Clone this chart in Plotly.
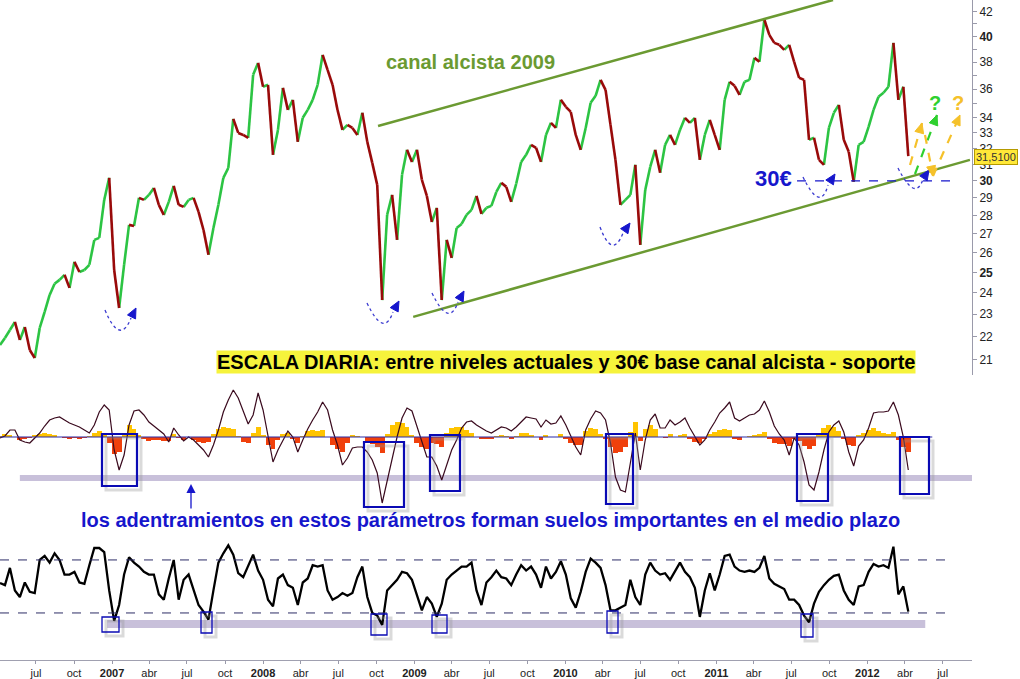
import math
import pandas as pd
import plotly.graph_objects as go

# ---------------- DATA ----------------
inicio = "2006-04-05"
n_periodos = 184
fechas = pd.date_range(inicio, periods=n_periodos, freq="12D").strftime("%Y-%m-%d").tolist()

precio = [
    21.63, 21.94, 22.29, 22.65, 21.85, 22.42, 21.42, 21.08, 22.38, 23.11,
    23.90, 24.44, 24.63, 24.88, 24.24, 25.53, 25.02, 25.12, 25.38, 26.67,
    26.78, 28.88, 30.18, 25.12, 23.29, 25.38, 27.48, 27.42, 29.00, 28.88,
    29.17, 29.58, 28.60, 28.03, 28.77, 29.70, 28.60, 28.48, 28.88, 29.00,
    28.20, 27.20, 25.89, 27.31, 28.60, 30.18, 30.78, 33.94, 33.00, 32.87,
    32.68, 37.05, 37.94, 36.18, 36.32, 31.59, 33.20, 36.10, 34.55, 35.25,
    32.42, 34.01, 34.55, 35.25, 36.32, 38.55, 37.42, 36.32, 34.55, 33.20,
    33.53, 33.33, 32.87, 34.35, 32.42, 31.09, 29.76, 23.66, 28.03, 29.17,
    26.67, 30.36, 31.91, 31.15, 31.91, 30.06, 29.11, 27.64, 28.43, 23.66,
    26.67, 25.73, 27.31, 27.53, 28.03, 28.31, 29.11, 28.09, 28.43, 28.54,
    29.34, 29.88, 29.64, 28.77, 29.82, 31.15, 31.59, 32.23, 32.04, 31.15,
    32.87, 33.67, 33.33, 35.25, 34.76, 34.41, 32.87, 31.91, 33.33, 35.04,
    35.53, 36.68, 35.96, 33.53, 31.28, 28.60, 28.88, 29.17, 30.97, 26.41,
    29.46, 30.84, 31.91, 30.48, 32.23, 32.87, 32.23, 33.20, 34.01, 33.67,
    34.01, 31.28, 32.87, 33.87, 32.87, 31.91, 35.25, 36.54, 36.25, 35.60,
    36.54, 36.68, 38.32, 38.02, 41.34, 40.12, 39.48, 39.33, 38.94, 39.33,
    38.02, 36.83, 36.68, 32.55, 32.68, 31.28, 30.97, 33.33, 34.35, 34.90,
    32.55, 31.78, 29.94, 32.23, 32.42, 33.40, 34.55, 35.46, 35.75, 36.18,
    39.48, 35.25, 36.18, 31.51,
]

osc_linea = [
    -0.1, 0.1, 0.7, 0.7, -0.3, -0.5, -0.6, -0.1, 0.4, 1.1,
    1.7, 1.9, 2.0, 1.7, 1.4, 1.2, 1.0, 0.7, 0.4, 1.2,
    2.5, 3.2, 2.7, -1.3, -3.3, -1.8, 1.2, 2.6, 2.7, 2.2,
    1.5, 1.1, 0.7, 0.3, -0.5, 0.9, 0.2, -0.4, 0.0, -0.3,
    -0.8, -1.3, -2.0, -0.8, 0.7, 2.5, 3.7, 4.7, 3.9, 2.5,
    1.3, 2.2, 4.4, 2.7, 0.0, -2.5, -1.3, -0.3, 0.6, 0.0,
    -1.5, -0.3, 0.8, 1.7, 2.5, 3.5, 2.7, 0.7, -0.8, -2.8,
    -2.1, -1.1, -1.0, -1.0, -1.5, -2.3, -3.6, -6.6, -4.3, -2.1,
    0.0, 1.9, 2.9, 2.6, 1.1, -0.6, -2.0, -2.0, -2.9, -4.3,
    -2.9, -1.3, -0.3, 0.9, 1.5, 1.6, 1.2, 0.9, 0.6, 0.4,
    0.7, 1.0, 0.9, 0.6, 1.0, 1.5, 2.0, 1.9, 1.8, 1.0,
    1.7, 1.3, 1.4, 2.1, 1.2, 0.1, -1.0, -1.8, 0.7, 1.8,
    2.6, 2.4, 1.7, -0.6, -4.0, -5.3, -5.5, -2.6, 0.4, -3.3,
    -0.3, 1.7, 2.3, 0.9, 0.9, 1.7, 1.2, 1.5, 1.9, 0.9,
    0.0, -0.8, -0.3, 0.7, 1.5, 2.4, 2.9, 3.5, 1.9, 1.6,
    1.9, 2.2, 2.3, 2.7, 3.6, 2.5, 1.1, 0.3, -0.3, -1.8,
    -0.1, -0.8, -2.5, -4.8, -5.3, -3.5, -1.3, 0.5, 1.2, 1.6,
    0.5, -1.5, -2.9, -0.9, -0.3, 0.9, 2.4, 2.5, 2.5, 2.6,
    3.5, 2.2, 0.0, -3.3,
]

osc_histograma = [
    0.1, 0.3, 0.2, 0.0, -0.3, -0.2, -0.1, 0.2, 0.3, 0.4,
    0.3, 0.2, 0.0, -0.1, -0.2, -0.1, -0.2, -0.1, 0.1, 0.4,
    0.6, 0.2, -0.6, -1.7, -1.5, 0.2, 1.2, 0.8, 0.2, -0.2,
    -0.4, -0.3, -0.3, -0.4, -0.4, 0.3, -0.1, -0.3, 0.0, -0.3,
    -0.5, -0.6, -0.5, 0.3, 0.8, 1.0, 0.9, 0.8, 0.1, -0.5,
    -0.6, 0.4, 1.0, 0.2, -0.8, -1.2, -0.3, 0.3, 0.4, -0.2,
    -0.6, 0.1, 0.6, 0.7, 0.6, 0.7, 0.0, -0.8, -1.2, -1.5,
    -0.6, 0.2, 0.1, 0.0, -0.4, -0.7, -1.0, -1.6, 0.3, 1.2,
    1.5, 1.4, 1.0, 0.2, -0.6, -1.0, -1.2, -0.6, -0.7, -1.0,
    0.4, 0.9, 1.0, 1.0, 0.7, 0.4, 0.0, -0.2, -0.2, -0.2,
    0.1, 0.2, 0.1, -0.2, 0.1, 0.4, 0.4, 0.2, 0.0, -0.3,
    0.2, 0.0, 0.0, 0.3, -0.2, -0.6, -0.8, -0.8, 0.6, 0.9,
    0.8, 0.3, -0.2, -1.0, -1.6, -1.5, -1.0, 0.5, 1.5, -0.4,
    0.8, 1.2, 0.8, 0.0, -0.1, 0.3, 0.0, 0.2, 0.3, -0.2,
    -0.5, -0.6, -0.2, 0.3, 0.5, 0.7, 0.8, 0.7, -0.2, -0.3,
    0.0, 0.1, 0.2, 0.3, 0.5, -0.2, -0.6, -0.7, -0.7, -0.9,
    -0.2, -0.4, -0.9, -1.2, -0.9, 0.2, 0.9, 1.2, 1.0, 0.6,
    -0.2, -0.8, -0.9, 0.2, 0.4, 0.7, 0.9, 0.6, 0.4, 0.3,
    0.5, -0.3, -1.0, -1.5,
]

osc_rsi = [
    52.6, 51, 64, 47, 42, 53, 46, 45, 70, 73,
    68, 75, 70, 59, 59, 61, 53, 52, 66, 79,
    79, 76, 47, 24, 36, 59, 72, 68, 65, 61,
    59, 59, 44, 40, 56, 70, 40, 55, 59, 47,
    36, 31, 25, 47, 68, 75, 81, 74, 60, 57,
    65, 74, 62, 55, 40, 35, 56, 59, 51, 49,
    36, 53, 56, 66, 65, 66, 47, 40, 42, 45,
    43, 45, 57, 65, 42, 30, 28, 21, 47, 51,
    55, 61, 60, 55, 44, 32, 42, 37, 27, 37,
    55, 59, 62, 65, 65, 68, 47, 36, 53, 57,
    62, 57, 56, 51, 59, 66, 62, 65, 59, 49,
    65, 56, 61, 69, 59, 41, 34, 46, 61, 71,
    68, 64, 51, 32, 32, 34, 36, 55, 42, 36,
    59, 68, 62, 59, 60, 55, 62, 68, 61, 57,
    49, 27, 47, 60, 47, 59, 73, 74, 65, 62,
    61, 62, 61, 64, 73, 56, 52, 50, 48, 40,
    40, 36, 28, 23, 37, 46, 51, 55, 58, 59,
    47, 40, 36, 50, 51, 61, 67, 65, 66, 64,
    80, 44, 50, 31,
]

canal_sup_fechas = ["2008-10-05", "2011-10-10"]
canal_sup_valores = [33.46, 43.0]
canal_inf_fechas = ["2008-12-29", "2012-09-05"]
canal_inf_valores = [22.88, 31.28]
soporte_fechas = ["2011-07-15", "2012-07-24"]
soporte_valores = [30, 30]

precio_ticks = [21, 22, 23, 24, 25, 26, 27, 28, 29, 30, 31, 32, 33, 34, 35, 36, 37, 38, 39, 40, 41, 42]
precio_textos = ["21", "22", "23", "24", "<b>25</b>", "26", "27", "28", "29", "<b>30</b>", "31", "32",
                 "33", "34", "", "36", "", "38", "", "<b>40</b>", "", "42"]

mes_ticks = ["2006-07-01", "2006-10-01", "2007-01-01", "2007-04-01", "2007-07-01", "2007-10-01",
             "2008-01-01", "2008-04-01", "2008-07-01", "2008-10-01", "2009-01-01", "2009-04-01",
             "2009-07-01", "2009-10-01", "2010-01-01", "2010-04-01", "2010-07-01", "2010-10-01",
             "2011-01-01", "2011-04-01", "2011-07-01", "2011-10-01", "2012-01-01", "2012-04-01",
             "2012-07-01"]
mes_textos = ["jul", "oct", "<b>2007</b>", "abr", "jul", "oct", "<b>2008</b>", "abr", "jul", "oct",
              "<b>2009</b>", "abr", "jul", "oct", "<b>2010</b>", "abr", "jul", "oct", "<b>2011</b>",
              "abr", "jul", "oct", "<b>2012</b>", "abr", "jul"]

# ---------------- STYLE / GEOMETRY ----------------
VERDE_SUBE = "#2cc443"
ROJO_BAJA = "#990a0a"
VERDE_CANAL = "#6b9a32"
AZUL = "#1616cc"
FONT = "Liberation Sans, Arial, sans-serif"

W_PX, H_PX = 972.0, 660.0


def px(x):
    return x / W_PX


def py(y):
    return 1 - y / H_PX


fig = go.Figure()

xu, yu, xd, yd = [], [], [], []
for i in range(1, n_periodos):
    sx = [fechas[i - 1], fechas[i], None]
    sy = [precio[i - 1], precio[i], None]
    if precio[i] >= precio[i - 1]:
        xu += sx
        yu += sy
    else:
        xd += sx
        yd += sy
fig.add_trace(go.Scatter(x=xu, y=yu, mode="lines", line=dict(color=VERDE_SUBE, width=2.6),
                         yaxis="y", hoverinfo="skip"))
fig.add_trace(go.Scatter(x=xd, y=yd, mode="lines", line=dict(color=ROJO_BAJA, width=2.6),
                         yaxis="y", hoverinfo="skip"))

for fx, fy in [(canal_sup_fechas, canal_sup_valores), (canal_inf_fechas, canal_inf_valores)]:
    fig.add_trace(go.Scatter(x=fx, y=fy, mode="lines", line=dict(color=VERDE_CANAL, width=2.5),
                             yaxis="y", hoverinfo="skip"))
fig.add_trace(go.Scatter(x=soporte_fechas, y=soporte_valores, mode="lines",
                         line=dict(color=AZUL, width=1.2, dash="dash"), yaxis="y", hoverinfo="skip"))

fig.add_trace(go.Bar(x=fechas, y=osc_histograma, yaxis="y2",
                     marker=dict(color=["#ffc400" if h >= 0 else "#f0400c" for h in osc_histograma],
                                 line=dict(width=0)),
                     width=12 * 86400000, hoverinfo="skip"))
fig.add_trace(go.Scatter(x=fechas, y=osc_linea, mode="lines", yaxis="y2",
                         line=dict(color="#3a0a1e", width=1.2), hoverinfo="skip"))

fig.add_trace(go.Scatter(x=fechas, y=osc_rsi, mode="lines", yaxis="y3",
                         line=dict(color="#000000", width=2.3), hoverinfo="skip"))

shapes = []
shapes.append(dict(type="line", xref="x", yref="y2", x0=inicio, x1="2012-06-06", y0=0, y1=0,
                   line=dict(color="#2a2aa8", width=1.2)))
shapes.append(dict(type="rect", xref="x", yref="y2", x0="2006-05-23", x1="2012-09-10", y0=-3.8, y1=-4.4,
                   fillcolor="#c8c0da", line=dict(width=0), layer="below"))
shapes.append(dict(type="rect", xref="x", yref="y3", x0="2006-12-20", x1="2012-05-20", y0=18.7, y1=24.7,
                   fillcolor="#c8c0da", line=dict(width=0), layer="below"))
for lvl in (70, 30):
    shapes.append(dict(type="line", xref="x", yref="y3", x0=inicio, x1="2012-07-19", y0=lvl, y1=lvl,
                       line=dict(color="#2c2c66", width=1, dash="dash")))

cajas_1 = [(102, 434, 137, 486), (364, 442, 404, 507), (430, 435, 460, 491),
           (606, 434, 633, 504), (797, 434, 828, 501), (900, 437, 929, 494)]
cajas_2 = [(102, 617, 119, 632), (201, 612, 212, 633), (371, 614, 387, 635),
           (432, 615, 447, 633), (607, 611, 618, 633), (801, 614, 813, 637)]
for (x0, y0, x1, y1), wdt in [(c, 2.2) for c in cajas_1] + [(c, 1.3) for c in cajas_2]:
    shapes.append(dict(type="rect", xref="paper", yref="paper", x0=px(x0 + 4), x1=px(x1 + 4),
                       y0=py(y0 + 4), y1=py(y1 + 4), line=dict(color="rgba(150,150,150,0.35)", width=3)))
    shapes.append(dict(type="rect", xref="paper", yref="paper", x0=px(x0), x1=px(x1),
                       y0=py(y0), y1=py(y1), line=dict(color="#0a0ab4", width=wdt)))


def triangulo(tip, frm, size=10, width=9, color=AZUL):
    dx, dy = tip[0] - frm[0], tip[1] - frm[1]
    L = math.hypot(dx, dy)
    ux, uy = dx / L, dy / L
    bx, by = tip[0] - ux * size, tip[1] - uy * size
    nx, ny = -uy, ux
    p1 = (bx + nx * width / 2, by + ny * width / 2)
    p2 = (bx - nx * width / 2, by - ny * width / 2)
    path = (f"M {px(tip[0])},{py(tip[1])} L {px(p1[0])},{py(p1[1])} "
            f"L {px(p2[0])},{py(p2[1])} Z")
    return dict(type="path", xref="paper", yref="paper", path=path, fillcolor=color,
                line=dict(color=color, width=1))


arcos = [((105, 310), (119, 330), (131, 318), (136, 308)),
         ((367, 303), (382, 323), (393, 312), (399, 301)),
         ((432, 293), (447, 313), (458, 302), (464, 291)),
         ((600, 227), (612, 245), (623, 233), (630, 223)),
         ((803, 177), (818, 197), (828, 185), (835, 174)),
         ((898, 168), (913, 188), (923, 179), (929, 170))]
for p0, b, p1, tip in arcos:
    cx = 2 * b[0] - (p0[0] + p1[0]) / 2
    cy = 2 * b[1] - (p0[1] + p1[1]) / 2
    shapes.append(dict(type="path", xref="paper", yref="paper",
                       path=f"M {px(p0[0])},{py(p0[1])} Q {px(cx)},{py(cy)} {px(p1[0])},{py(p1[1])}",
                       line=dict(color="#3a3ad0", width=1.3, dash="dot")))
    shapes.append(triangulo(tip, p1))

AMARILLO = "#f5c12a"
VERDE_Q = "#2fd02f"
flechas = [((910, 165), (922, 123), AMARILLO),
           ((915, 174), (937, 115), VERDE_Q),
           ((925, 135), (933, 176), AMARILLO),
           ((933, 176), (960, 115), AMARILLO)]
for a, bpt, col in flechas:
    shapes.append(dict(type="line", xref="paper", yref="paper", x0=px(a[0]), y0=py(a[1]),
                       x1=px(bpt[0]), y1=py(bpt[1]), line=dict(color=col, width=2.2, dash="dash")))
    shapes.append(triangulo(bpt, a, size=10, width=9, color=col))


def texto(t, x, y, size, color, **kw):
    d = dict(text=t, x=px(x), y=py(y), xref="paper", yref="paper", showarrow=False,
             xanchor="center", yanchor="middle", font=dict(family=FONT, size=size, color=color))
    d.update(kw)
    return d


annotations = [
    texto("<b>canal alcista 2009</b>", 470, 62, 20, VERDE_CANAL),
    texto("<b>ESCALA DIARIA: entre niveles actuales y 30€ base canal alcista - soporte</b>", 566, 362, 20,
          "#000000", bgcolor="#f6f33c", borderpad=0),
    texto("<b>30€</b>", 773, 178, 22, AZUL),
    texto("<b>los adentramientos en estos parámetros forman suelos importantes en el medio plazo</b>",
          490, 520, 20, AZUL),
    texto("<b>?</b>", 935, 103, 20, VERDE_Q),
    texto("<b>?</b>", 958, 103, 20, AMARILLO),
    texto("31,5100", 974, 157, 11, "#333333", xanchor="left", bgcolor="#ffe838",
          bordercolor="#b59a00", borderwidth=1, borderpad=1),
    dict(text="", x=px(191), y=py(484), xref="paper", yref="paper", showarrow=True, ax=0, ay=26,
         arrowhead=2, arrowsize=1.4, arrowwidth=1.3, arrowcolor=AZUL),
]

fig.update_layout(
    width=1020, height=679,
    margin=dict(l=0, r=48, t=0, b=19, autoexpand=False),
    paper_bgcolor="white", plot_bgcolor="white",
    showlegend=False, bargap=0,
    shapes=shapes, annotations=annotations,
    xaxis=dict(type="date", range=[inicio, "2012-09-10"], anchor="y3", domain=[0, 1],
               tickmode="array", tickvals=mes_ticks, ticktext=mes_textos,
               ticks="outside", ticklen=3, tickcolor="#9a9aaa", showline=True, linecolor="#a0a0b0",
               showgrid=False, zeroline=False, tickfont=dict(family=FONT, size=11, color="#222222")),
    yaxis=dict(type="log", range=[math.log10(20.38), math.log10(43.0)], domain=[1 - 375 / 660, 1],
               side="right", anchor="x", tickmode="array", tickvals=precio_ticks, ticktext=precio_textos,
               ticks="outside", ticklen=4, tickcolor="#9a9aaa", showline=True, linecolor="#9a9aaa",
               showgrid=False, zeroline=False, tickfont=dict(family=FONT, size=12, color="#222222")),
    yaxis2=dict(domain=[1 - 528 / 660, 1 - 383 / 660], range=[-9.1, 5.4], anchor="x", visible=False),
    yaxis3=dict(domain=[0, 1 - 530 / 660], range=[-5.5, 92.6], anchor="x", visible=False),
)

fig.write_html("out.html", config={"displayModeBar": False},
               post_script="document.body.style.margin='0px';")
